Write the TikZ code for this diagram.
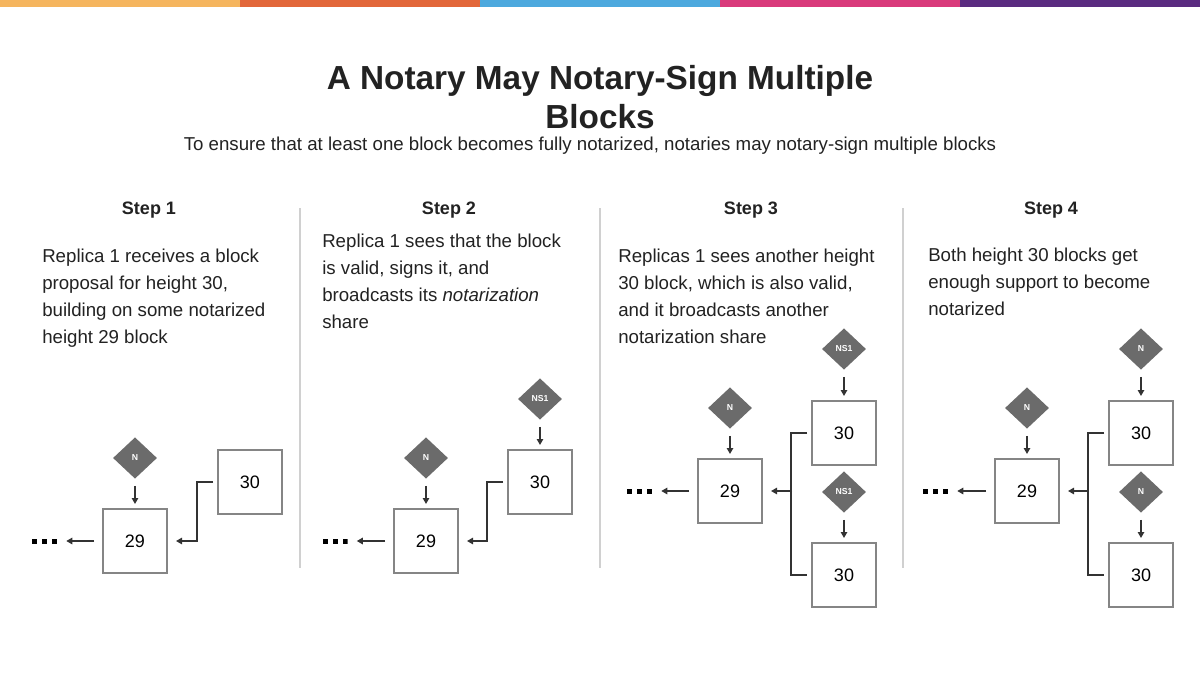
\documentclass[tikz,border=0pt]{standalone}
\usepackage{fontspec}
\setmainfont{Liberation Sans}
\usetikzlibrary{shapes.geometric,arrows.meta,calc}
\definecolor{bar1}{HTML}{F5B55E}
\definecolor{bar2}{HTML}{E2673A}
\definecolor{bar3}{HTML}{4DA9DE}
\definecolor{bar4}{HTML}{D93A7B}
\definecolor{bar5}{HTML}{5A2B80}
\definecolor{txt}{HTML}{222222}
\definecolor{boxc}{HTML}{858585}
\definecolor{dia}{HTML}{6B6B6B}
\definecolor{sepc}{HTML}{D0D0D0}
\definecolor{arrc}{HTML}{333333}
\begin{document}
\begin{tikzpicture}[x=0.75pt,y=-0.75pt,
 blk/.style={draw=boxc, line width=1.5pt, fill=white, minimum width=48pt, minimum height=48pt, inner sep=0, font=\fontsize{13.5}{16}\selectfont, text=black},
 sig/.style={diamond, fill=dia, minimum width=33pt, minimum height=31pt, inner sep=0, font=\fontsize{6.5}{7}\selectfont\bfseries, text=white},
 arr/.style={draw=arrc, line width=1.1pt, -{Triangle[length=4.5pt,width=4.8pt]}},
 conn/.style={draw=arrc, line width=1.1pt},
 dotsnode/.style={minimum width=18.75pt, minimum height=3.75pt, inner sep=0,
   path picture={
     \fill[black] (path picture bounding box.south west) rectangle ++(3.75pt,3.75pt);
     \fill[black] ([xshift=7.5pt]path picture bounding box.south west) rectangle ++(3.75pt,3.75pt);
     \fill[black] ([xshift=15pt]path picture bounding box.south west) rectangle ++(3.75pt,3.75pt);}},
 para/.style={anchor=north west, inner sep=0, align=left, font=\fontsize{14}{20.25}\selectfont, text=txt},
 head/.style={inner sep=0, font=\fontsize{13.5}{16}\selectfont\bfseries, text=txt},
 sepl/.style={draw=sepc, line width=1.1pt}
]
\useasboundingbox (0,0) rectangle (1200,675);
\fill[white] (0,0) rectangle (1200,675);
% colour bar
\fill[bar1] (0,0) rectangle (240,7);
\fill[bar2] (240,0) rectangle (480,7);
\fill[bar3] (480,0) rectangle (720,7);
\fill[bar4] (720,0) rectangle (960,7);
\fill[bar5] (960,0) rectangle (1200,7);
% title
\node[align=center, inner sep=0, font=\fontsize{25}{29.25}\selectfont\bfseries, text=txt] (title) at (600,97) {A Notary May Notary-Sign Multiple\\Blocks};
\node[inner sep=0, font=\fontsize{14}{16}\selectfont, text=txt] (sub) at (590,146) {To ensure that at least one block becomes fully notarized, notaries may notary-sign multiple blocks};
% separators
\draw[sepl] (300,208) -- (300,568);
\draw[sepl] (600,208) -- (600,568);
\draw[sepl] (903,208) -- (903,568);
% headers
\node[head] (h1) at (149,210) {Step 1};
\node[head] (h2) at (449,210) {Step 2};
\node[head] (h3) at (751,210) {Step 3};
\node[head] (h4) at (1051,210) {Step 4};
% paragraphs
\node[para] (p1) at (42,249) {Replica 1 receives a block\\proposal for height 30,\\building on some notarized\\height 29 block};
\node[para] (p2) at (322,234) {Replica 1 sees that the block\\is valid, signs it, and\\broadcasts its \textit{notarization}\\share};
\node[para] (p3) at (618,249) {Replicas 1 sees another height\\30 block, which is also valid,\\and it broadcasts another\\notarization share};
\node[para] (p4) at (928,248) {Both height 30 blocks get\\enough support to become\\notarized};
% ---- Step 1
\node[blk] (a29) at (135,541) {29};
\node[blk] (a30) at (250,482) {30};
\node[sig] (an) at (135,458) {N};
\node[dotsnode] (ad) at (44.5,541) {};
\draw[arr, shorten <=5.25pt, shorten >=3pt] (an) -- (a29);
\draw[arr, shorten <=6pt, shorten >=6.75pt] (a29) -- (ad);
\draw[arr, shorten <=3pt, shorten >=6pt] (a30.west) -- ++(-20,0) |- (a29.east);
% ---- Step 2
\node[blk] (b29) at (426,541) {29};
\node[blk] (b30) at (540,482) {30};
\node[sig] (bn) at (426,458) {N};
\node[sig] (bns) at (540,399) {NS1};
\node[dotsnode] (bd) at (335,541) {};
\draw[arr, shorten <=5.25pt, shorten >=3pt] (bn) -- (b29);
\draw[arr, shorten <=5.25pt, shorten >=3pt] (bns) -- (b30);
\draw[arr, shorten <=6pt, shorten >=6.75pt] (b29) -- (bd);
\draw[arr, shorten <=3pt, shorten >=6pt] (b30.west) -- ++(-20,0) |- (b29.east);
% ---- Step 3
\node[blk] (c29) at (730,491) {29};
\node[blk] (c30a) at (844,433) {30};
\node[blk] (c30b) at (844,575) {30};
\node[sig] (cn) at (730,408) {N};
\node[sig] (cnsa) at (844,349) {NS1};
\node[sig] (cnsb) at (844,492) {NS1};
\node[dotsnode] (cd) at (639.5,491) {};
\coordinate (cj) at (792,491);
\draw[arr, shorten <=5.25pt, shorten >=3pt] (cn) -- (c29);
\draw[arr, shorten <=5.25pt, shorten >=3pt] (cnsa) -- (c30a);
\draw[arr, shorten <=5.25pt, shorten >=3pt] (cnsb) -- (c30b);
\draw[arr, shorten <=6pt, shorten >=6.75pt] (c29) -- (cd);
\draw[conn, shorten <=3pt, shorten >=3pt] (c30a.west) -- ++(-20,0) |- (c30b.west);
\draw[arr, shorten >=6pt] (cj) -- (c29.east);
% ---- Step 4
\node[blk] (d29) at (1027,491) {29};
\node[blk] (d30a) at (1141,433) {30};
\node[blk] (d30b) at (1141,575) {30};
\node[sig] (dn) at (1027,408) {N};
\node[sig] (dna) at (1141,349) {N};
\node[sig] (dnb) at (1141,492) {N};
\node[dotsnode] (dd) at (935.5,491) {};
\coordinate (dj) at (1089,491);
\draw[arr, shorten <=5.25pt, shorten >=3pt] (dn) -- (d29);
\draw[arr, shorten <=5.25pt, shorten >=3pt] (dna) -- (d30a);
\draw[arr, shorten <=5.25pt, shorten >=3pt] (dnb) -- (d30b);
\draw[arr, shorten <=6pt, shorten >=6.75pt] (d29) -- (dd);
\draw[conn, shorten <=3pt, shorten >=3pt] (d30a.west) -- ++(-20,0) |- (d30b.west);
\draw[arr, shorten >=6pt] (dj) -- (d29.east);
\end{tikzpicture}
\end{document}
